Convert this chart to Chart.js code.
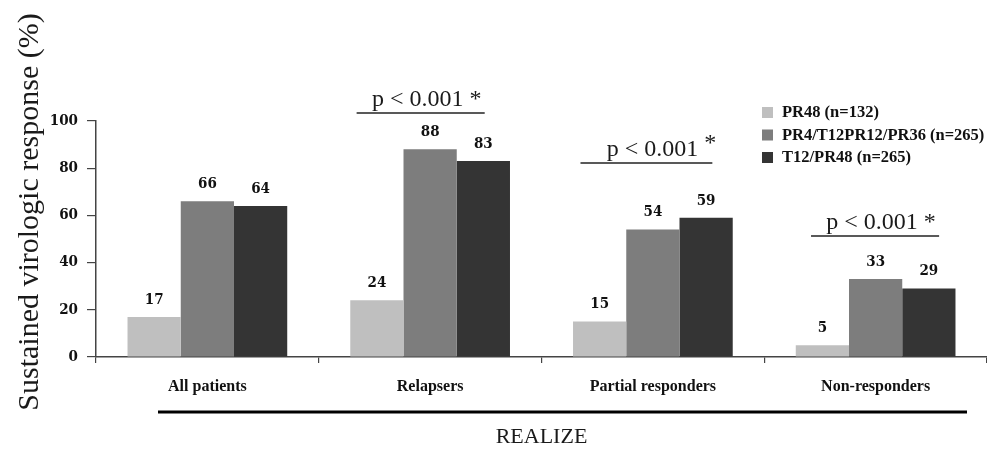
<!DOCTYPE html>
<html lang="en">
<head>
    <meta charset="UTF-8">
    <title>Sustained virologic response - REALIZE</title>
    <style>
        body {
            margin: 0;
            padding: 0;
            background-color: #ffffff;
        }
        .chart-container {
            position: relative;
            width: 987px;
            height: 450px;
        }
    </style>
    <script src="https://cdn.jsdelivr.net/npm/chart.js"></script>
</head>
<body>
    <div class="chart-container">
        <canvas id="svrChart"></canvas>
    </div>

    <script>
        // data
        const categories = ['All patients', 'Relapsers', 'Partial responders', 'Non-responders'];
        const seriesNames = ['PR48 (n=132)', 'PR4/T12PR12/PR36 (n=265)', 'T12/PR48 (n=265)'];
        const pr48 = [17, 24, 15, 5];
        const pr4T12 = [66, 88, 54, 33];
        const t12Pr48 = [64, 83, 59, 29];
        const yTicks = [0, 20, 40, 60, 80, 100];

        const barColors = ['#bfbfbf', '#7d7d7d', '#343434'];

        // significance brackets: category, y level, span around category centre
        const pNotes = [
            { cat: 1, level: 103.4, from: -0.33, to: 0.245, text: 'p < 0.001 *', star: '' },
            { cat: 2, level: 82.2, from: -0.325, to: 0.267, text: 'p < 0.001', star: '*' },
            { cat: 3, level: 51.3, from: -0.29, to: 0.285, text: 'p < 0.001 *', star: '' }
        ];

        const serifBold = 'bold 16.5px "Liberation Serif", "Times New Roman", serif';
        const digitFont = 'bold 15px "DejaVu Serif Condensed", "DejaVu Serif", serif';

        // extra drawing: value labels, y title, legend, p-values, REALIZE bar
        const extrasPlugin = {
            id: 'extras',
            afterDatasetsDraw(chart) {
                const ctx = chart.ctx;
                const x = chart.scales.x;
                const y = chart.scales.y;
                const area = chart.chartArea;

                ctx.save();
                // values above bars
                ctx.font = digitFont;
                ctx.fillStyle = '#111';
                ctx.textAlign = 'center';
                ctx.textBaseline = 'middle';
                chart.data.datasets.forEach((ds, i) => {
                    chart.getDatasetMeta(i).data.forEach((bar, j) => {
                        ctx.fillText(ds.data[j], bar.x, bar.y - 17);
                    });
                });

                // y axis title
                ctx.save();
                ctx.translate(30, 212);
                ctx.rotate(-Math.PI / 2);
                ctx.font = '30px "Liberation Serif", "Times New Roman", serif';
                ctx.fillStyle = '#1a1a1a';
                ctx.fillText('Sustained virologic response (%)', 0, 0);
                ctx.restore();

                // legend
                ctx.font = serifBold;
                ctx.textAlign = 'left';
                seriesNames.forEach((name, i) => {
                    const ly = 113 + i * 22.5;
                    ctx.fillStyle = barColors[i];
                    ctx.fillRect(762, ly - 6, 11, 11);
                    ctx.fillStyle = '#111';
                    ctx.fillText(name, 782, ly);
                });

                // p-value brackets
                ctx.strokeStyle = '#222';
                ctx.lineWidth = 1.6;
                ctx.fillStyle = '#1a1a1a';
                pNotes.forEach(n => {
                    const x0 = x.getPixelForValue(n.cat + n.from);
                    const x1 = x.getPixelForValue(n.cat + n.to);
                    const ly = y.getPixelForValue(n.level);
                    ctx.beginPath();
                    ctx.moveTo(x0, ly);
                    ctx.lineTo(x1, ly);
                    ctx.stroke();
                    ctx.font = '24px "Liberation Serif", "Times New Roman", serif';
                    ctx.textBaseline = 'alphabetic';
                    ctx.textAlign = 'center';
                    const cx = (x0 + x1) / 2 + 6;
                    ctx.fillText(n.text, cx, ly - 7);
                    if (n.star) {
                        const w = ctx.measureText(n.text).width;
                        ctx.textAlign = 'left';
                        ctx.fillText(n.star, cx + w / 2 + 6, ly - 13);
                    }
                });

                // black line grouping the four categories
                ctx.strokeStyle = '#000';
                ctx.lineWidth = 3;
                ctx.beginPath();
                ctx.moveTo(area.left + 62, 412);
                ctx.lineTo(area.right - 20, 412);
                ctx.stroke();
                ctx.restore();
            }
        };

        new Chart(document.getElementById('svrChart'), {
            type: 'bar',
            data: {
                labels: categories,
                datasets: [
                    { label: seriesNames[0], data: pr48, backgroundColor: barColors[0] },
                    { label: seriesNames[1], data: pr4T12, backgroundColor: barColors[1] },
                    { label: seriesNames[2], data: t12Pr48, backgroundColor: barColors[2] }
                ]
            },
            options: {
                responsive: true,
                maintainAspectRatio: false,
                animation: false,
                layout: { padding: { left: 50, top: 121, right: 0, bottom: 0 } },
                datasets: { bar: { barPercentage: 1, categoryPercentage: 0.717 } },
                plugins: {
                    legend: { display: false },
                    tooltip: { enabled: false }
                },
                scales: {
                    x: {
                        afterFit(scale) { scale.height = 93; },
                        grid: { drawOnChartArea: false, tickLength: 6, color: '#444', lineWidth: 1.2 },
                        border: { color: '#444', width: 1.5 },
                        ticks: {
                            padding: 14,
                            color: '#111',
                            font: { family: '"Liberation Serif", "Times New Roman", serif', size: 16, weight: 'bold' }
                        },
                        title: {
                            display: true,
                            text: 'REALIZE',
                            color: '#1a1a1a',
                            padding: { top: 0, bottom: 0 },
                            font: { family: '"Liberation Serif", "Times New Roman", serif', size: 22 }
                        }
                    },
                    y: {
                        min: 0,
                        max: 100,
                        afterFit(scale) { scale.width = 46; },
                        afterBuildTicks(scale) {
                            scale.ticks = yTicks.map(v => ({ value: v }));
                        },
                        grid: { drawOnChartArea: false, tickLength: 9, color: '#444', lineWidth: 1.2 },
                        border: { color: '#444', width: 1.5 },
                        ticks: {
                            padding: 9,
                            color: '#111',
                            font: { family: '"DejaVu Serif Condensed", "DejaVu Serif", serif', size: 15, weight: 'bold' }
                        }
                    }
                }
            },
            plugins: [extrasPlugin]
        });
    </script>
</body>
</html>
